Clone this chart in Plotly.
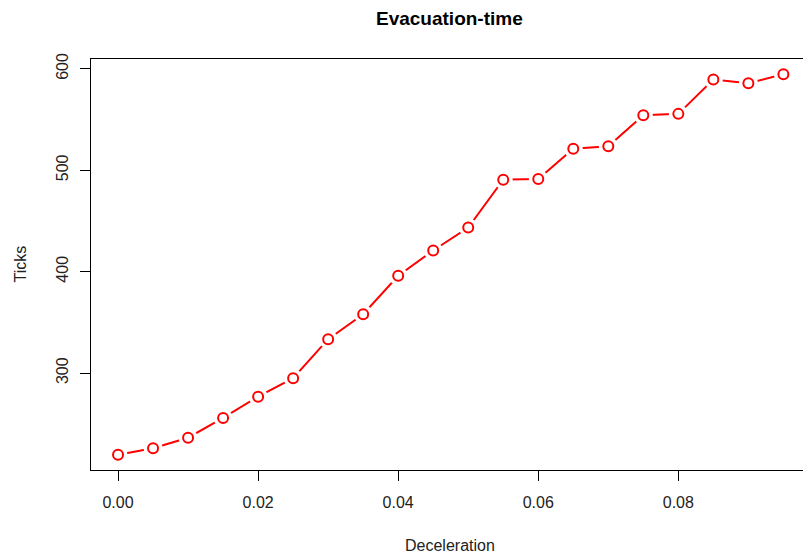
import plotly.graph_objects as go

deceleration = [0.000, 0.005, 0.010, 0.015, 0.020, 0.025, 0.030, 0.035, 0.040, 0.045,
                0.050, 0.055, 0.060, 0.065, 0.070, 0.075, 0.080, 0.085, 0.090, 0.095]
ticks = [219.5, 225.9, 236.3, 255.8, 276.8, 295.0, 333.5, 358.1, 396.0, 420.9,
         443.6, 490.7, 491.5, 521.3, 523.6, 554.2, 555.6, 589.4, 585.8, 594.7]

x_tickvals = [0.00, 0.02, 0.04, 0.06, 0.08]
x_ticktext = ["0.00", "0.02", "0.04", "0.06", "0.08"]
y_tickvals = [300, 400, 500, 600]
y_ticktext = ["300", "400", "500", "600"]

FONT = "Liberation Sans, Arial, sans-serif"
TXT = "#222222"

fig = go.Figure()
# line
fig.add_trace(go.Scatter(x=deceleration, y=ticks, mode="lines",
                         line=dict(color="#ff0000", width=2), hoverinfo="skip"))
# white halo to make R type="b" gaps
fig.add_trace(go.Scatter(x=deceleration, y=ticks, mode="markers",
                         marker=dict(symbol="circle", size=19, color="white",
                                     line=dict(width=0)), hoverinfo="skip"))
# open circles
fig.add_trace(go.Scatter(x=deceleration, y=ticks, mode="markers",
                         marker=dict(symbol="circle", size=10, color="white",
                                     line=dict(color="#ff0000", width=2))))

fig.update_layout(
    width=803, height=558,
    margin=dict(l=91, r=0, t=59, b=88),
    paper_bgcolor="white", plot_bgcolor="white",
    showlegend=False,
    font=dict(family=FONT, size=16, color=TXT),
    xaxis=dict(range=[-0.00386, 0.0978], tickvals=x_tickvals, ticktext=x_ticktext,
               showgrid=False, zeroline=False, showline=True, linecolor="black",
               linewidth=1, mirror=True, ticks="outside", ticklen=10,
               tickcolor="black", tickwidth=1, ticklabelstandoff=8,
               tickfont=dict(family=FONT, size=16, color=TXT)),
    yaxis=dict(range=[204.5, 609.7], tickvals=y_tickvals, ticktext=y_ticktext,
               showgrid=False, zeroline=False, showline=True, linecolor="black",
               linewidth=1, mirror=False, ticks="outside", ticklen=10,
               tickcolor="black", tickwidth=1, tickangle=-90, ticklabelstandoff=6,
               tickfont=dict(family=FONT, size=16, color=TXT)),
    annotations=[
        dict(text="<b>Evacuation-time</b>", xref="paper", yref="paper",
             x=0.504, y=1, yshift=41, xanchor="center", yanchor="middle",
             showarrow=False, font=dict(family=FONT, size=19, color="black")),
        dict(text="Deceleration", xref="paper", yref="paper",
             x=0.504, y=0, yshift=-75, xanchor="center", yanchor="middle",
             showarrow=False, font=dict(family=FONT, size=16, color=TXT)),
        dict(text="Ticks", xref="paper", yref="paper",
             x=0, xshift=-71, y=0.5, xanchor="center", yanchor="middle",
             textangle=-90, showarrow=False,
             font=dict(family=FONT, size=16, color=TXT)),
    ],
)

fig.write_html("out.html", config={"displayModeBar": False},
               post_script="document.body.style.margin='0';document.body.style.overflow='hidden';")
